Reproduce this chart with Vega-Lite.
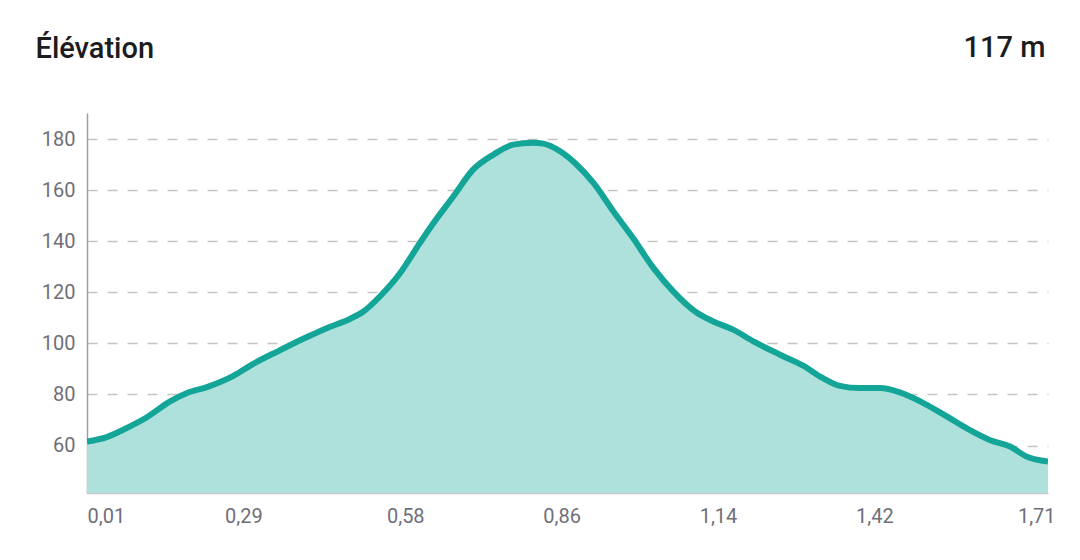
{
  "$schema": "https://vega.github.io/schema/vega-lite/v6.json",
  "width": 961,
  "height": 380,
  "autosize": {"type": "none"},
  "padding": {"left": 87, "top": 113, "right": 32, "bottom": 67},
  "background": "white",
  "config": {
    "view": {"stroke": null},
    "font": "Roboto"
  },
  "data": {
    "values": [
      {"d": 0.0100, "e": 61.6},
      {"d": 0.0454, "e": 63.3},
      {"d": 0.0748, "e": 66.2},
      {"d": 0.1173, "e": 71.1},
      {"d": 0.1588, "e": 77.3},
      {"d": 0.1882, "e": 80.5},
      {"d": 0.2246, "e": 82.9},
      {"d": 0.2722, "e": 87.3},
      {"d": 0.3076, "e": 92.0},
      {"d": 0.3552, "e": 97.3},
      {"d": 0.4038, "e": 102.5},
      {"d": 0.4392, "e": 106.0},
      {"d": 0.4807, "e": 109.6},
      {"d": 0.5050, "e": 112.5},
      {"d": 0.5344, "e": 118.4},
      {"d": 0.5708, "e": 127.6},
      {"d": 0.6062, "e": 139.4},
      {"d": 0.6305, "e": 147.2},
      {"d": 0.6660, "e": 157.6},
      {"d": 0.7014, "e": 168.1},
      {"d": 0.7378, "e": 174.0},
      {"d": 0.7733, "e": 177.9},
      {"d": 0.8087, "e": 178.6},
      {"d": 0.8269, "e": 178.3},
      {"d": 0.8573, "e": 175.3},
      {"d": 0.8867, "e": 170.1},
      {"d": 0.9170, "e": 162.9},
      {"d": 0.9525, "e": 151.8},
      {"d": 0.9879, "e": 141.3},
      {"d": 1.0243, "e": 129.6},
      {"d": 1.0598, "e": 120.4},
      {"d": 1.1023, "e": 112.0},
      {"d": 1.1316, "e": 108.6},
      {"d": 1.1671, "e": 105.4},
      {"d": 1.2035, "e": 100.8},
      {"d": 1.2511, "e": 95.6},
      {"d": 1.2926, "e": 91.3},
      {"d": 1.3280, "e": 86.4},
      {"d": 1.3584, "e": 83.4},
      {"d": 1.3938, "e": 82.5},
      {"d": 1.4303, "e": 82.5},
      {"d": 1.4657, "e": 80.8},
      {"d": 1.5021, "e": 77.3},
      {"d": 1.5497, "e": 71.4},
      {"d": 1.5851, "e": 66.8},
      {"d": 1.6266, "e": 62.2},
      {"d": 1.6631, "e": 59.6},
      {"d": 1.6924, "e": 55.7},
      {"d": 1.7309, "e": 53.7}
    ]
  },
  "encoding": {
    "x": {
      "field": "d",
      "type": "quantitative",
      "scale": {"domain": [0.01, 1.731], "nice": false, "zero": false},
      "axis": {
        "values": [0.01, 0.29, 0.58, 0.86, 1.14, 1.42, 1.71],
        "labelExpr": "replace(format(datum.value, '.2f'), '.', ',')",
        "labelFlush": true,
        "labelFont": "Roboto",
        "labelFontSize": 20,
        "labelColor": "#6f6f78",
        "labelPadding": 13,
        "ticks": false,
        "grid": false,
        "domain": true,
        "domainColor": "#c8c8c8",
        "domainWidth": 1.5,
        "title": "117 m",
        "titleX": 958,
        "titleY": -437,
        "titleAlign": "right",
        "titleAnchor": "end",
        "titleBaseline": "alphabetic",
        "titleFont": "Roboto",
        "titleFontSize": 29,
        "titleFontWeight": 500,
        "titleColor": "#1c1c1c"
      }
    },
    "y": {
      "field": "e",
      "type": "quantitative",
      "scale": {"domain": [41.4, 190.3], "nice": false, "zero": false},
      "axis": {
        "values": [60, 80, 100, 120, 140, 160, 180],
        "labelFont": "Roboto",
        "labelFontSize": 20,
        "labelColor": "#6f6f78",
        "labelPadding": 12,
        "ticks": false,
        "grid": true,
        "gridColor": "#c4c4c4",
        "gridDash": [10, 10],
        "gridWidth": 1.5,
        "domain": true,
        "domainColor": "#a0a0a0",
        "domainWidth": 1.5,
        "title": "Élévation",
        "titleAngle": 0,
        "titleX": -52,
        "titleY": -56,
        "titleAlign": "left",
        "titleAnchor": "start",
        "titleBaseline": "alphabetic",
        "titleFont": "Roboto",
        "titleFontSize": 29,
        "titleFontWeight": 500,
        "titleColor": "#1c1c1c"
      }
    }
  },
  "layer": [
    {
      "mark": {"type": "area", "interpolate": "monotone", "color": "#aee0dc", "opacity": 1, "clip": true}
    },
    {
      "mark": {"type": "line", "interpolate": "monotone", "color": "#13a597", "strokeWidth": 6, "clip": true}
    }
  ]
}
